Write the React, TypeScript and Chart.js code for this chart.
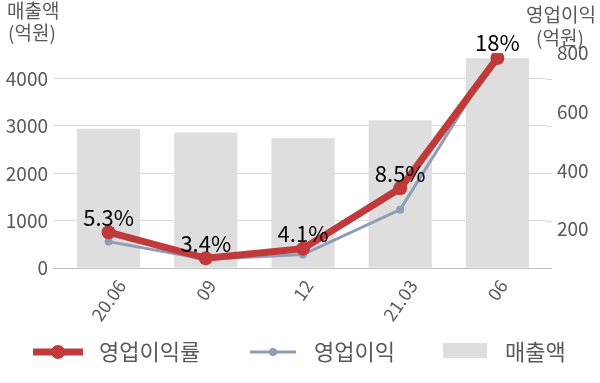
import { useEffect, useRef } from "react";
import { Chart, registerables } from "chart.js";

Chart.register(...registerables);

const categories = ["20.06", "09", "12", "21.03", "06"];
const revenue = [2940, 2860, 2740, 3120, 4430];
const operatingProfit = [157, 97, 113, 266, 797];
const margin = [5.3, 3.4, 4.1, 8.5, 18];
const marginLabels = ["5.3%", "3.4%", "4.1%", "8.5%", "18%"];
const leftTicks = [0, 1000, 2000, 3000, 4000];
const rightTicks = [200, 400, 600, 800];
const legendLabels = ["영업이익률", "영업이익", "매출액"];
const leftTitle = ["매출액", "(억원)"];
const rightTitle = ["영업이익", "(억원)"];

const FONT = '"Noto Sans CJK KR", "Noto Sans", sans-serif';
const TEXT = "#595959";
const RED = "#c0393b";
const BLUE = "#8f9cb8";
const BAR = "#dedede";
const GRID = "#d9d9d9";
const AXIS = "#bfbfbf";

const overlay = {
  id: "overlay",
  beforeDatasetsDraw(chart: any) {
    const { ctx, chartArea, scales } = chart;
    const y = scales.y;
    ctx.save();
    ctx.lineWidth = 1;
    leftTicks.forEach((v) => {
      const py = Math.round(y.getPixelForValue(v)) + 0.5;
      ctx.strokeStyle = v === 0 ? AXIS : GRID;
      ctx.beginPath();
      ctx.moveTo(chartArea.right, py);
      ctx.lineTo(chartArea.right + 6, py);
      ctx.stroke();
    });
    ctx.restore();
  },
  afterDatasetsDraw(chart: any) {
    const { ctx } = chart;
    const meta = chart.getDatasetMeta(0);
    ctx.save();
    ctx.font = `22px ${FONT}`;
    ctx.fillStyle = "#000";
    ctx.textAlign = "center";
    ctx.textBaseline = "middle";
    meta.data.forEach((pt: any, i: number) => {
      ctx.fillText(marginLabels[i], pt.x, pt.y - 15);
    });
    ctx.restore();
  },
  afterDraw(chart: any) {
    const { ctx, scales } = chart;
    const x = scales.x;
    ctx.save();
    // axis titles
    ctx.fillStyle = TEXT;
    ctx.textBaseline = "middle";
    ctx.textAlign = "left";
    ctx.font = `19px ${FONT}`;
    ctx.fillText(leftTitle[0], 7, 11);
    ctx.fillText(leftTitle[1], 8, 33);
    ctx.fillText(rightTitle[0], 526, 15);
    ctx.fillText(rightTitle[1], 536, 38);

    // x tick labels (rotated, centred on the category)
    const ang = (55 * Math.PI) / 180;
    ctx.font = `18px ${FONT}`;
    categories.forEach((c, i) => {
      const px = x.getPixelForValue(i);
      const w = ctx.measureText(c).width;
      const cy = 278 + (w / 2) * Math.sin(ang) + 4;
      ctx.save();
      ctx.translate(px, cy);
      ctx.rotate(-ang);
      ctx.textAlign = "center";
      ctx.textBaseline = "middle";
      ctx.fillText(c, 0, 0);
      ctx.restore();
    });

    // legend
    const ly = 352;
    ctx.lineCap = "butt";
    ctx.strokeStyle = RED;
    ctx.lineWidth = 7;
    ctx.beginPath();
    ctx.moveTo(33, ly);
    ctx.lineTo(83, ly);
    ctx.stroke();
    ctx.fillStyle = RED;
    ctx.beginPath();
    ctx.arc(58, ly, 7, 0, Math.PI * 2);
    ctx.fill();

    ctx.strokeStyle = BLUE;
    ctx.lineWidth = 3;
    ctx.beginPath();
    ctx.moveTo(250, ly);
    ctx.lineTo(296, ly);
    ctx.stroke();
    ctx.fillStyle = BLUE;
    ctx.beginPath();
    ctx.arc(273, ly, 4, 0, Math.PI * 2);
    ctx.fill();

    ctx.fillStyle = BAR;
    ctx.fillRect(443, 343, 44, 15);

    ctx.fillStyle = TEXT;
    ctx.font = `22px ${FONT}`;
    ctx.textAlign = "left";
    ctx.textBaseline = "middle";
    ctx.fillText(legendLabels[0], 99, ly);
    ctx.fillText(legendLabels[1], 314, ly);
    ctx.fillText(legendLabels[2], 505, ly);
    ctx.restore();
  },
};

export default function App() {
  const ref = useRef<HTMLCanvasElement | null>(null);

  useEffect(() => {
    if (!ref.current) return;
    const chart = new Chart(ref.current, {
      type: "bar",
      data: {
        labels: categories,
        datasets: [
          {
            type: "line",
            label: legendLabels[0],
            data: margin,
            yAxisID: "yPct",
            borderColor: RED,
            backgroundColor: RED,
            borderWidth: 7,
            pointRadius: 7,
            pointBorderWidth: 0,
            pointBackgroundColor: RED,
            tension: 0,
            order: 1,
          } as any,
          {
            type: "line",
            label: legendLabels[1],
            data: operatingProfit,
            yAxisID: "yR",
            borderColor: BLUE,
            backgroundColor: BLUE,
            borderWidth: 3,
            pointRadius: 4,
            pointBorderWidth: 0,
            pointBackgroundColor: BLUE,
            tension: 0,
            order: 2,
          } as any,
          {
            type: "bar",
            label: legendLabels[2],
            data: revenue,
            yAxisID: "y",
            backgroundColor: BAR,
            barPercentage: 0.65,
            categoryPercentage: 1,
            order: 3,
          } as any,
        ],
      },
      options: {
        responsive: false,
        animation: false,
        devicePixelRatio: 1,
        layout: { padding: { top: 53, left: 0, right: 0, bottom: 0 } },
        plugins: {
          legend: { display: false },
          tooltip: { enabled: false },
        },
        scales: {
          x: {
            grid: { display: false, drawTicks: false },
            border: { display: true, color: AXIS, width: 1 },
            ticks: { display: false },
            afterFit: (s: any) => {
              s.height = 115;
            },
          },
          y: {
            position: "left",
            min: 0,
            max: 4540,
            afterBuildTicks: (s: any) => {
              s.ticks = leftTicks.map((v) => ({ value: v }));
            },
            grid: {
              color: (c: any) => (c.tick && c.tick.value === 0 ? AXIS : GRID),
              tickLength: 7,
            },
            border: { display: false },
            ticks: {
              padding: 5,
              color: TEXT,
              font: { family: FONT, size: 19 },
              callback: (v: any) => String(v),
            },
            afterFit: (s: any) => {
              s.width = 60;
            },
          },
          yR: {
            position: "right",
            min: 67,
            max: 800,
            afterBuildTicks: (s: any) => {
              s.ticks = rightTicks.map((v) => ({ value: v }));
            },
            grid: { display: false, drawTicks: false },
            border: { display: false },
            ticks: {
              padding: 11,
              color: TEXT,
              font: { family: FONT, size: 19 },
              callback: (v: any) => String(v),
            },
            afterFit: (s: any) => {
              s.width = 54;
            },
          },
          yPct: {
            display: false,
            min: 2.69,
            max: 18.36,
          },
        },
      } as any,
      plugins: [overlay],
    });
    return () => chart.destroy();
  }, []);

  return (
    <div style={{ position: "fixed", left: 0, top: 0, width: 600, height: 383, background: "#fff" }}>
      <canvas ref={ref} width={600} height={383} style={{ width: 600, height: 383, display: "block" }} />
    </div>
  );
}
